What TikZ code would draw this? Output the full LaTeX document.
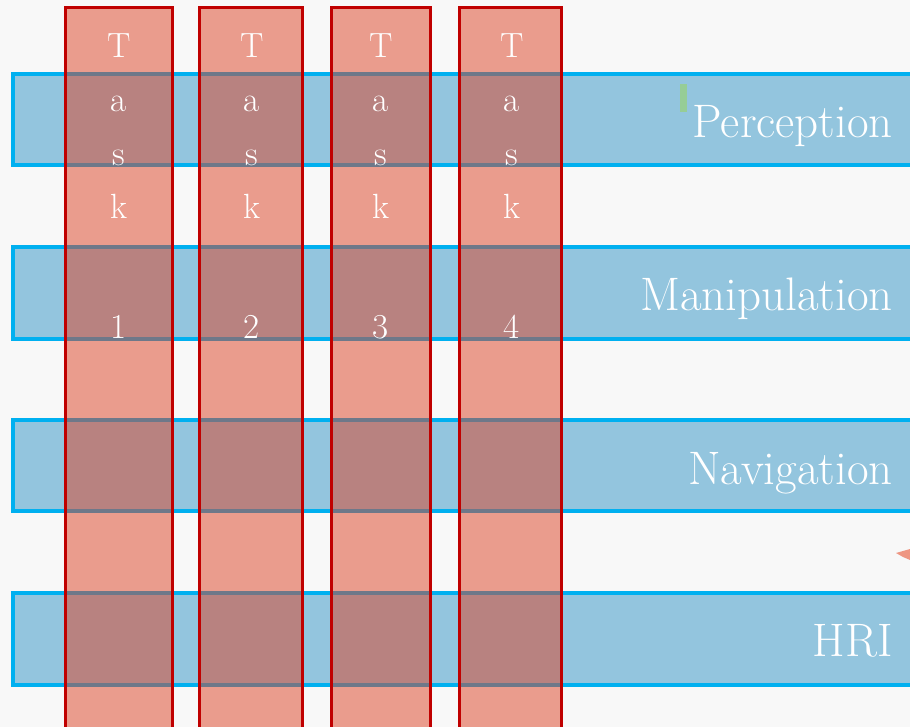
\documentclass[tikz,border=0pt]{standalone}
\usepackage{fontspec}
\definecolor{bgc}{RGB}{248,248,248}
\definecolor{barfill}{RGB}{147,197,222}
\definecolor{barline}{RGB}{0,176,240}
\definecolor{colfill}{RGB}{221,65,35}
\definecolor{colline}{RGB}{192,0,0}
\definecolor{markgreen}{RGB}{150,205,150}
\definecolor{tipsalmon}{RGB}{238,150,130}
\tikzset{
  bar/.style={fill=barfill,draw=barline,line width=3.5pt},
  taskcol/.style={fill=colfill,fill opacity=0.5,draw=colline,draw opacity=1,line width=3pt},
  letter/.style={text=white,font=\fontsize{35}{35}\selectfont,inner sep=0pt,anchor=base},
  label/.style={text=white,font=\fontsize{47}{47}\selectfont,inner sep=0pt,anchor=base east}
}
\begin{document}
\begin{tikzpicture}[x=1pt,y=-1pt]
\useasboundingbox (0,0) rectangle (910,727);
\clip (0,0) rectangle (910,727);
\fill[bgc] (0,0) rectangle (910,727);
% bars
\draw[bar] (13,74) rectangle (925,165);
\draw[bar] (13,247) rectangle (925,339);
\draw[bar] (13,420) rectangle (925,511);
\draw[bar] (13,593) rectangle (925,685);
% columns
\draw[taskcol] (65,8) rectangle (172,740);
\draw[taskcol] (199,8) rectangle (302,740);
\draw[taskcol] (331,8) rectangle (430,740);
\draw[taskcol] (459,8) rectangle (561,740);
% letters
\foreach \c/\x/\n in {a/119/1,b/252/2,c/381/3,d/512/4}{
  \node[letter] (T\c) at (\x,58) {T};
  \node[letter] (a\c) at (\x,112) {a};
  \node[letter] (s\c) at (\x,166) {s};
  \node[letter] (k\c) at (\x,219) {k};
  \node[letter] (n\c) at (\x,338) {\n};
}
% labels
\node[label] (perc) at (893,138) {Perception};
\node[label] (manip) at (893,311) {Manipulation};
\node[label] (nav) at (893,484) {Navigation};
\node[label] (hri) at (893,656) {HRI};
% small marks
\fill[markgreen] (680,84) rectangle (687,112);
\fill[tipsalmon] (896,553) -- (910,549) -- (910,560) -- (903,557) -- cycle;
\end{tikzpicture}
\end{document}
